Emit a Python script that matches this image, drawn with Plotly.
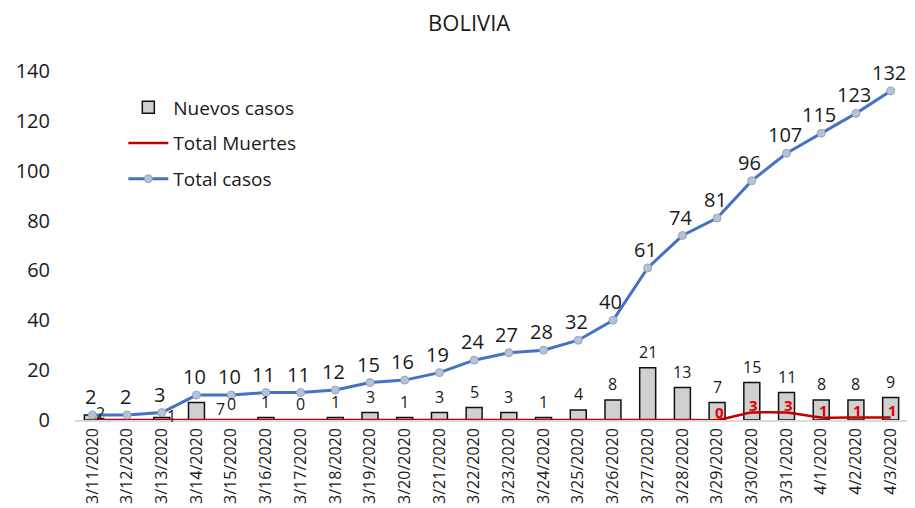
import plotly.graph_objects as go

fechas = ["3/11/2020", "3/12/2020", "3/13/2020", "3/14/2020", "3/15/2020", "3/16/2020",
          "3/17/2020", "3/18/2020", "3/19/2020", "3/20/2020", "3/21/2020", "3/22/2020",
          "3/23/2020", "3/24/2020", "3/25/2020", "3/26/2020", "3/27/2020", "3/28/2020",
          "3/29/2020", "3/30/2020", "3/31/2020", "4/1/2020", "4/2/2020", "4/3/2020"]
nuevos_casos = [2, None, 1, 7, 0, 1, 0, 1, 3, 1, 3, 5, 3, 1, 4, 8, 21, 13, 7, 15, 11, 8, 8, 9]
total_muertes = [0, 0, 0, 0, 0, 0, 0, 0, 0, 0, 0, 0, 0, 0, 0, 0, 0, 0, 0, 3, 3, 1, 1, 1]
total_casos = [2, 2, 3, 10, 10, 11, 11, 12, 15, 16, 19, 24, 27, 28, 32, 40, 61, 74, 81, 96,
               107, 115, 123, 132]
y_ticks = [0, 20, 40, 60, 80, 100, 120, 140]
first_death_label = 18  # labels for deaths shown from 3/29 onward

FONT = "Open Sans, Liberation Sans, sans-serif"
TXT = "#1a1a1a"

fig = go.Figure()
fig.add_trace(go.Bar(
    x=fechas, y=nuevos_casos, name="Nuevos casos", legendgroup="a",
    marker=dict(color="#d0d0d0", line=dict(color="#111111", width=1.5)),
    width=0.46,
))
fig.add_trace(go.Scatter(
    x=fechas, y=total_muertes, name="Total Muertes", mode="lines", legendgroup="b",
    line=dict(color="#c00000", width=2.5, shape="spline", smoothing=0.5),
))
fig.add_trace(go.Scatter(
    x=fechas, y=total_casos, name="Total casos", mode="lines+markers", legendgroup="c",
    line=dict(color="#4472c4", width=3),
    marker=dict(size=8, color="#b4c3dc", line=dict(color="#9aa3b0", width=1)),
))

ann = []
# total casos labels
for f, v in zip(fechas, total_casos):
    ann.append(dict(x=f, y=v, text=str(v), showarrow=False, yanchor="bottom",
                    yshift=3, xshift=-2, font=dict(size=20, color=TXT, family=FONT)))
# nuevos casos labels
side_labels = {0: 8, 2: 10, 3: 24}
for i, (f, v) in enumerate(zip(fechas, nuevos_casos)):
    if v is None:
        continue
    if i in side_labels:
        ann.append(dict(x=f, y=v, text=str(v), showarrow=False, yanchor="middle",
                        xshift=side_labels[i], yshift=2 if i != 3 else -6,
                        font=dict(size=16, color=TXT, family=FONT)))
    else:
        ann.append(dict(x=f, y=v, text=str(v), showarrow=False, yanchor="bottom",
                        yshift=3, font=dict(size=16, color=TXT, family=FONT)))
# muertes labels
for i, (f, v) in enumerate(zip(fechas, total_muertes)):
    if i < first_death_label:
        continue
    ann.append(dict(x=f, y=v, text="<b>%d</b>" % v, showarrow=False, yanchor="middle",
                    yshift=8, xshift=2, font=dict(size=15, color="#e00000", family=FONT)))

fig.update_layout(
    width=915, height=508,
    margin=dict(l=67, r=15, t=63, b=96, autoexpand=False),
    paper_bgcolor="white", plot_bgcolor="white",
    title=dict(text="BOLIVIA", x=0.504, xanchor="center", xref="container",
               y=1 - 15 / 508, yref="container", yanchor="middle",
               font=dict(size=22, color=TXT, family=FONT)),
    font=dict(family=FONT, color=TXT),
    showlegend=True,
    annotations=ann,
)
fig.update_layout(legend=dict(x=0.058, y=0.95, xanchor="left", yanchor="top",
                              font=dict(size=19, family=FONT, color=TXT),
                              bgcolor="rgba(0,0,0,0)", tracegroupgap=8, itemwidth=40))
fig.update_xaxes(type="category", tickangle=-90, tickfont=dict(size=16, family=FONT, color=TXT),
                 showgrid=False, showline=True, linecolor="#d9d9d9", linewidth=1.5,
                 ticks="", range=[-0.5, 23.5], automargin=False)
fig.update_yaxes(range=[0, 140], tickvals=y_ticks, showgrid=False, zeroline=False,
                 showline=False, tickfont=dict(size=20, family=FONT, color=TXT),
                 ticklabelstandoff=24, automargin=False)
fig.write_html("out.html")
